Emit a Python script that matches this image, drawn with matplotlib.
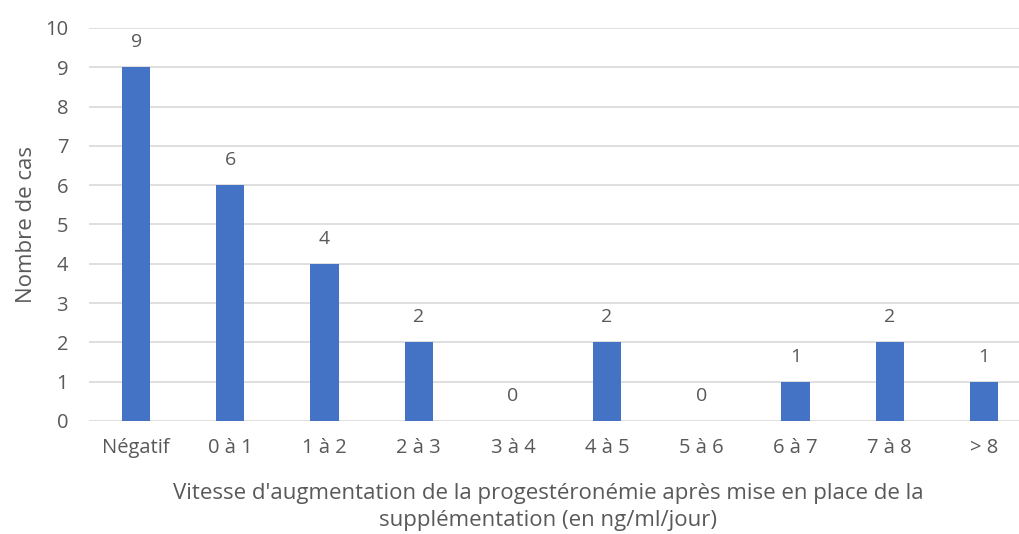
import matplotlib
matplotlib.use("Agg")
import matplotlib.pyplot as plt

plt.rcParams['font.family'] = ['Open Sans', 'DejaVu Sans']

categories = ['Négatif', '0 à 1', '1 à 2', '2 à 3', '3 à 4', '4 à 5', '5 à 6', '6 à 7', '7 à 8', '> 8']
cas = [9, 6, 4, 2, 0, 2, 0, 1, 2, 1]

txt = '#595959'
W, H = 1019, 534
fig = plt.figure(figsize=(W / 100, H / 100), dpi=100)
ax = fig.add_axes([89 / W, 113 / H, 942 / W, 393 / H])

x = range(len(categories))
bars = ax.bar(x, cas, width=0.3, color='#4472C4', zorder=3)
for xi, v in zip(x, cas):
    ax.annotate(str(v), (xi, v), xytext=(0, 11.5), textcoords='offset points',
                ha='center', va='bottom', fontsize=14, color=txt)

ax.set_xlim(-0.5, len(categories) - 0.5)
ax.set_ylim(0, 10)
ax.set_yticks(range(11))
ax.set_xticks(list(x))
ax.set_xticklabels(categories)
ax.yaxis.grid(True, color='#D9D9D9', linewidth=1.2, zorder=0)
for s in ax.spines.values():
    s.set_visible(False)
ax.tick_params(axis='both', length=0, labelsize=14.5, labelcolor=txt)
ax.tick_params(axis='x', pad=12)
ax.tick_params(axis='y', pad=15)

ax.set_ylabel('Nombre de cas', fontsize=16, color=txt, labelpad=6)
fig.text(548 / W, 1 - 507 / H,
         "Vitesse d'augmentation de la progestéronémie après mise en place de la\nsupplémentation (en ng/ml/jour)",
         ha='center', va='center', fontsize=16, color=txt, linespacing=1.32)

fig.savefig('out.png', dpi=100)
